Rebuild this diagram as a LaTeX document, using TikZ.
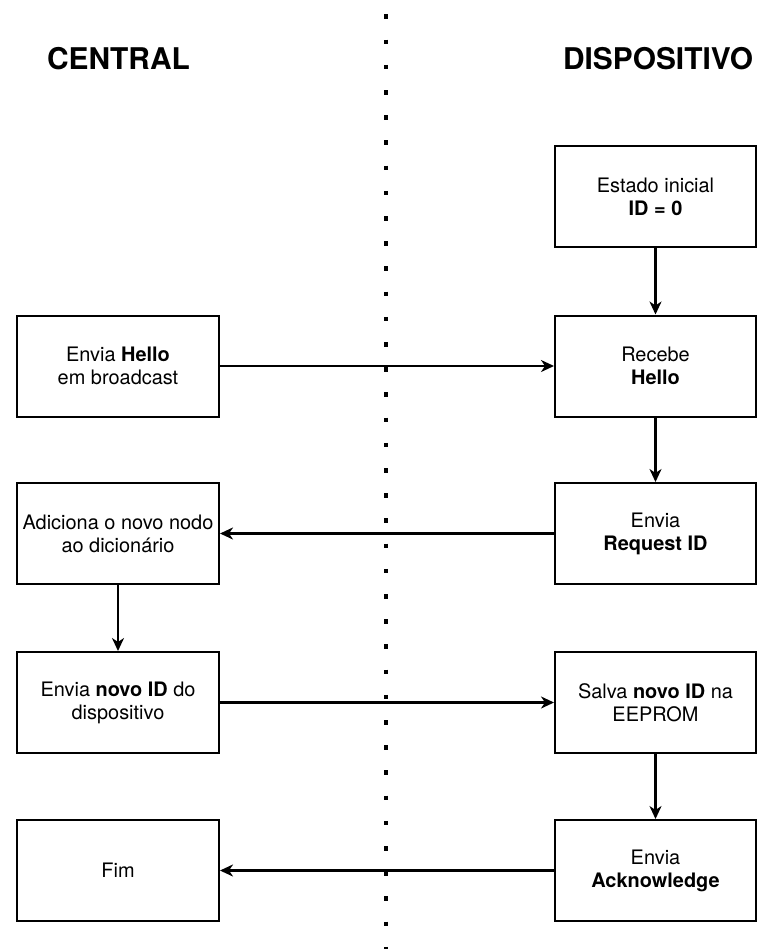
\documentclass[tikz,border=0pt]{standalone}
\usepackage{fontspec}
\setmainfont{TeX Gyre Heros}
\usetikzlibrary{arrows.meta, positioning}
\definecolor{FlowBlack}{HTML}{000000}
\definecolor{FlowWhite}{HTML}{ffffff}
\tikzset{
    % Box styles - sharp corners
    stepbox/.style={
        rectangle,
        draw=FlowBlack,
        fill=FlowWhite,
        line width=2bp,
        minimum width=202bp,
        minimum height=101bp,
        inner sep=0pt,
        align=center,
        font=\fontsize{20}{23}\selectfont
    },
    header/.style={
        inner sep=0pt,
        font=\fontsize{30}{36}\selectfont\bfseries
    },
    % Arrow and divider styles
    arrow/.style={
        -{Stealth[length=13bp, width=12bp, inset=4bp]},
        line width=2.2bp,
        draw=FlowBlack
    },
    divider/.style={
        line width=4.6bp,
        draw=FlowBlack,
        dash pattern=on 4.6bp off 20.6bp
    }
}
\begin{document}
\begin{tikzpicture}[x=1bp, y=-1bp]
    \path[use as bounding box, fill=FlowWhite] (0,0) rectangle (757,949);

    % Divider
    \coordinate (divtop) at (386,14.4);
    \coordinate (divbot) at (386,960);
    \draw[divider] (divtop) -- (divbot);

    % Labels
    \node[header] (central) at (118.5,58.5) {CENTRAL};
    \node[header] (dispositivo) at (658,58.5) {DISPOSITIVO};

    % Central column
    \node[stepbox] (hello) at (118,366) {Envia \textbf{Hello}\\em broadcast};
    \node[stepbox] (dicio) at (118,533.5) {Adiciona o novo nodo\\ao dicionário};
    \node[stepbox] (novoid) at (118,702.5) {Envia \textbf{novo ID} do\\dispositivo};
    \node[stepbox] (fim) at (118,870.5) {Fim};

    % Device column
    \node[stepbox, minimum width=201bp] (estado) at (655.5,196.5) {Estado inicial\\\textbf{ID = 0}};
    \node[stepbox, minimum width=201bp] (recebe) at (655.5,366) {Recebe\\\textbf{Hello}};
    \node[stepbox, minimum width=201bp] (reqid) at (655.5,533.5) {Envia\\\textbf{Request ID}};
    \node[stepbox, minimum width=201bp] (salva) at (655.5,702.5) {Salva \textbf{novo ID} na\\EEPROM};
    \node[stepbox, minimum width=201bp] (ack) at (655.5,870.5) {Envia\\\textbf{Acknowledge}};

    % Vertical flow
    \draw[arrow] (estado) -- (recebe);
    \draw[arrow] (recebe) -- (reqid);
    \draw[arrow] (dicio) -- (novoid);
    \draw[arrow] (salva) -- (ack);

    % Messages across the divider
    \draw[arrow] (hello) -- (recebe);
    \draw[arrow] (reqid) -- (dicio);
    \draw[arrow] (novoid) -- (salva);
    \draw[arrow] (ack) -- (fim);
\end{tikzpicture}
\end{document}
